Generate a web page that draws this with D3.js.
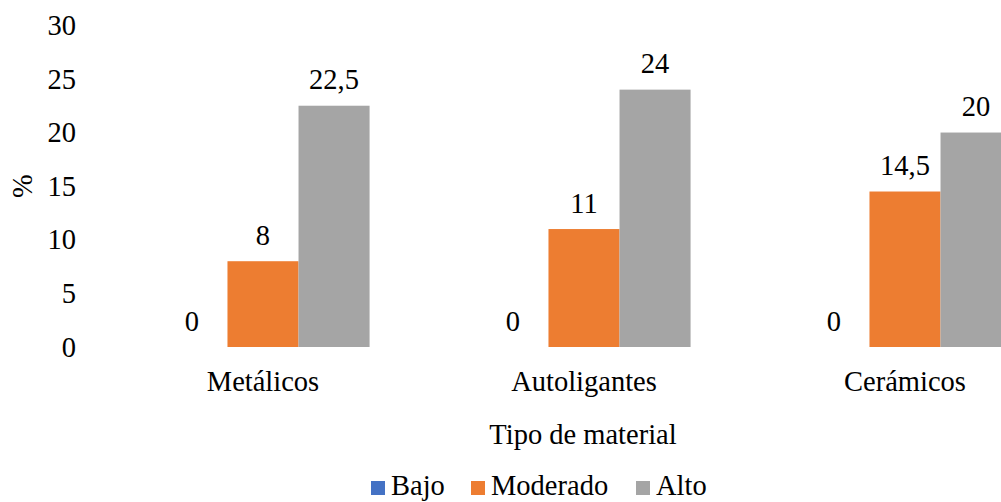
<!DOCTYPE html>
<html>
<head>
<meta charset="utf-8">
<script src="https://cdn.jsdelivr.net/npm/d3@7"></script>
<style>
  html, body { margin: 0; padding: 0; background: #fff; overflow: hidden; }
</style>
</head>
<body>
<svg id="chart" width="1001" height="502"></svg>
<script>
// Materials and risk levels
const categories = ["Metálicos", "Autoligantes", "Cerámicos"];
const seriesNames = ["Bajo", "Moderado", "Alto"];
const bajo = [0, 0, 0];
const moderado = [8, 11, 14.5];
const alto = [22.5, 24, 20];
const yTicks = [0, 5, 10, 15, 20, 25, 30];
const colors = ["#4472C4", "#ED7D31", "#A5A5A5"];

const seriesValues = [bajo, moderado, alto];
const rows = categories.map((c, i) => ({
  category: c,
  values: seriesNames.map((s, j) => ({ series: s, value: seriesValues[j][i], color: colors[j] }))
}));

const FONT = "'Times New Roman', Times, Tinos, 'Liberation Serif', 'Nimbus Roman', 'Nimbus Roman No9 L', FreeSerif, 'Noto Serif', 'DejaVu Serif', 'Noto Serif CJK SC', serif";
const fontSize = 28.5;

const svg = d3.select("#chart")
  .style("font-family", FONT)
  .style("font-size", fontSize + "px");

// The plot area continues past the right edge of the window
const step = 321;
const x0Start = 102.5;
const x0 = d3.scaleBand()
  .domain(categories)
  .range([x0Start, x0Start + step * categories.length])
  .paddingInner(0.336)
  .paddingOuter(0.168);

const x1 = d3.scaleBand()
  .domain(seriesNames)
  .range([0, x0.bandwidth()]);

const y = d3.scaleLinear().domain([0, 30]).range([347, 25.3]);

// Y axis: labels only, no line or ticks
const yAxis = svg.append("g")
  .attr("transform", "translate(80,0)")
  .call(d3.axisLeft(y).tickValues(yTicks).tickSize(0).tickPadding(4));
yAxis.attr("font-family", null).attr("font-size", null);
yAxis.select(".domain").remove();
yAxis.selectAll("text").attr("fill", "#000");

// Bars
const groups = svg.append("g").selectAll("g")
  .data(rows)
  .join("g")
  .attr("transform", d => `translate(${x0(d.category)},0)`);

groups.selectAll("rect")
  .data(d => d.values)
  .join("rect")
  .attr("x", d => x1(d.series))
  .attr("y", d => y(d.value))
  .attr("width", x1.bandwidth())
  .attr("height", d => y(0) - y(d.value))
  .attr("fill", d => d.color);

// Value labels
const fmt = v => String(v).replace(".", ",");
groups.selectAll("text.value")
  .data(d => d.values)
  .join("text")
  .attr("class", "value")
  .attr("x", d => x1(d.series) + x1.bandwidth() / 2)
  .attr("y", d => y(d.value) - 16.5)
  .attr("text-anchor", "middle")
  .attr("fill", "#000")
  .text(d => fmt(d.value));

// Category labels
const xAxis = svg.append("g")
  .attr("transform", "translate(0,347)")
  .call(d3.axisBottom(x0).tickSize(0).tickPadding(24));
xAxis.attr("font-family", null).attr("font-size", null);
xAxis.select(".domain").remove();
xAxis.selectAll("text").attr("fill", "#000");

// Axis titles
svg.append("text")
  .attr("x", 583)
  .attr("y", 444)
  .attr("text-anchor", "middle")
  .attr("fill", "#000")
  .text("Tipo de material");

svg.append("text")
  .attr("transform", "translate(32,186) rotate(-90)")
  .attr("text-anchor", "middle")
  .attr("fill", "#000")
  .text("%");

// Legend
const legendPos = [371, 471, 636];
const legend = svg.append("g").selectAll("g")
  .data(seriesNames)
  .join("g")
  .attr("transform", (d, i) => `translate(${legendPos[i]},0)`);

legend.append("rect")
  .attr("x", 0)
  .attr("y", 481)
  .attr("width", 14)
  .attr("height", 14)
  .attr("fill", (d, i) => colors[i]);

legend.append("text")
  .attr("x", 20)
  .attr("y", 495)
  .attr("fill", "#000")
  .text(d => d);
</script>
</body>
</html>
